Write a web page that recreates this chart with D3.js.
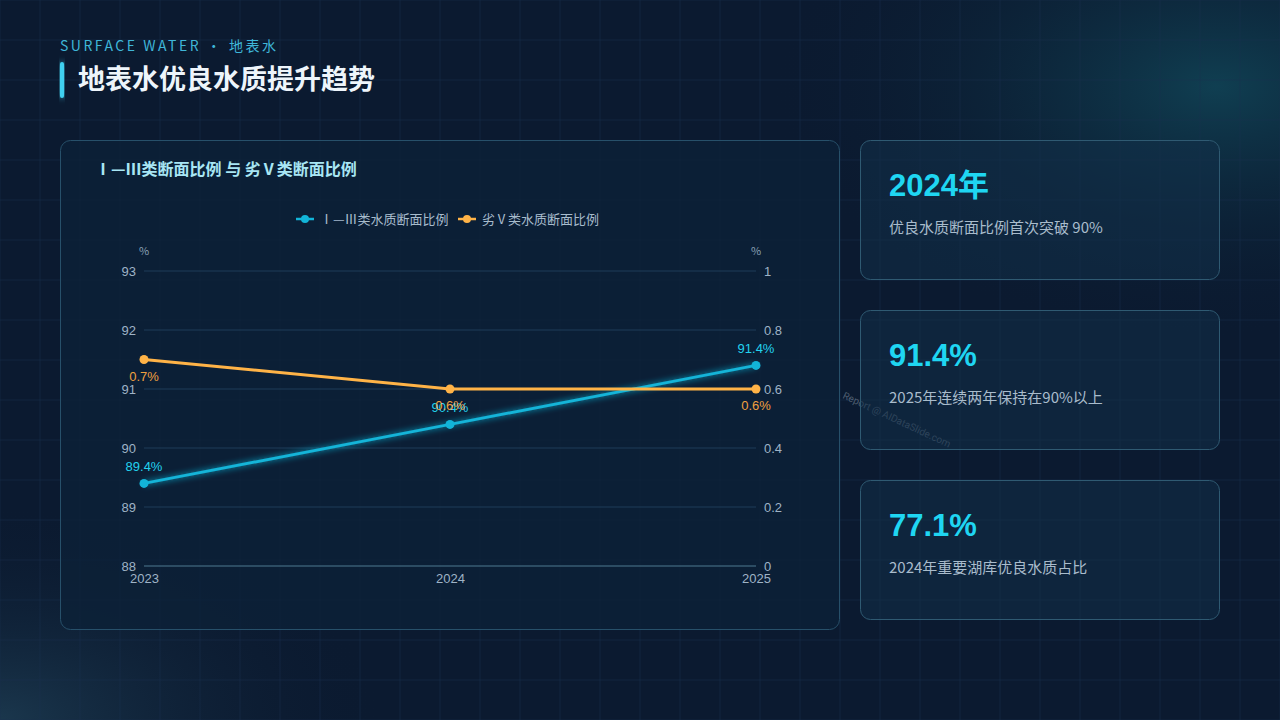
<!DOCTYPE html>
<html><head><meta charset="utf-8">
<script src="https://cdn.jsdelivr.net/npm/d3@7"></script>
<style>
body{margin:0;width:1280px;height:720px;overflow:hidden;background:#0b1a30;font-family:"Noto Sans CJK SC","Noto Sans",sans-serif;}
</style></head><body>
<svg id="c" width="1280" height="720"></svg>
<script>
const years = ["2023","2024","2025"];
const good = [89.4, 90.4, 91.4];
const bad = [0.7, 0.6, 0.6];
const leftTicks = [88,89,90,91,92,93];
const rightTicks = [0,0.2,0.4,0.6,0.8,1];
const cards = [
 {big:"2024年", small:"优良水质断面比例首次突破 90%"},
 {big:"91.4%", small:"2025年连续两年保持在90%以上"},
 {big:"77.1%", small:"2024年重要湖库优良水质占比"}
];
const svg = d3.select("#c");
const defs = svg.append("defs");
const bg = defs.append("radialGradient").attr("id","g1").attr("cx","0.95").attr("cy","0.12").attr("r","0.35");
bg.append("stop").attr("offset","0").attr("stop-color","#11485a").attr("stop-opacity",0.8);
bg.append("stop").attr("offset","1").attr("stop-color","#0b1a30").attr("stop-opacity",0);
const bg2 = defs.append("radialGradient").attr("id","g2").attr("cx","0").attr("cy","1").attr("r","0.3");
bg2.append("stop").attr("offset","0").attr("stop-color","#1c3a50").attr("stop-opacity",0.9);
bg2.append("stop").attr("offset","1").attr("stop-color","#0b1a30").attr("stop-opacity",0);
const glow = defs.append("filter").attr("id","glow").attr("x","-20%").attr("y","-50%").attr("width","140%").attr("height","200%");
glow.append("feGaussianBlur").attr("stdDeviation",3).attr("result","b");
const fm = glow.append("feMerge"); fm.append("feMergeNode").attr("in","b"); fm.append("feMergeNode").attr("in","SourceGraphic");
svg.append("rect").attr("width",1280).attr("height",720).attr("fill","#0b1a30");
svg.append("rect").attr("width",1280).attr("height",720).attr("fill","url(#g1)");
svg.append("rect").attr("width",1280).attr("height",720).attr("fill","url(#g2)");
const grid = svg.append("g").attr("stroke","#1a3350").attr("stroke-opacity",0.45);
d3.range(0,1281,40).forEach(x=>grid.append("line").attr("x1",x).attr("x2",x).attr("y1",0).attr("y2",720));
d3.range(0,721,40).forEach(y=>grid.append("line").attr("y1",y).attr("y2",y).attr("x1",0).attr("x2",1280));

svg.append("text").attr("x",60).attr("y",51).attr("fill","#3fb6d8").attr("font-size",14).attr("letter-spacing",2.5).text("SURFACE WATER · 地表水");
svg.append("rect").attr("x",60).attr("y",62).attr("width",4).attr("height",36).attr("rx",2).attr("fill","#3fd0f0").attr("filter","url(#glow)");
svg.append("text").attr("x",78).attr("y",89).attr("fill","#eef5fb").attr("font-size",27).attr("font-weight",700).text("地表水优良水质提升趋势");

svg.append("rect").attr("x",60.5).attr("y",140.5).attr("width",779).attr("height",489).attr("rx",10).attr("fill","#0c2238").attr("fill-opacity",0.75).attr("stroke","#27506a");
svg.append("text").attr("x",95).attr("y",175).attr("fill","#a8e6f4").attr("font-size",16).attr("font-weight",700).text("Ⅰ—Ⅲ类断面比例 与 劣Ⅴ类断面比例");

const x = d3.scalePoint().domain(years).range([144,756]);
const yl = d3.scaleLinear().domain([88,93]).range([566,271]);
const yr = d3.scaleLinear().domain([0,1]).range([566,271]);
const g = svg.append("g");
leftTicks.forEach(t=>g.append("line").attr("x1",144).attr("x2",756).attr("y1",yl(t)).attr("y2",yl(t)).attr("stroke",t==88?"#4f7a90":"#1f3d58"));
const al = g.append("g").attr("transform","translate(144,0)").call(d3.axisLeft(yl).tickValues(leftTicks).tickSize(0).tickPadding(8).tickFormat(d3.format("~g")));
const ar = g.append("g").attr("transform","translate(756,0)").call(d3.axisRight(yr).tickValues(rightTicks).tickSize(0).tickPadding(8).tickFormat(d3.format("~g")));
const ab = g.append("g").attr("transform","translate(0,566)").call(d3.axisBottom(x).tickSize(0).tickPadding(8));
[al,ar,ab].forEach(a=>{a.select(".domain").remove();a.selectAll("text").attr("fill","#9fb3c6").attr("font-size",13).attr("font-family","'Liberation Sans',Roboto,sans-serif");});
g.append("text").attr("x",144).attr("y",255).attr("text-anchor","middle").attr("fill","#8aa0b5").attr("font-size",11).text("%");
g.append("text").attr("x",756).attr("y",255).attr("text-anchor","middle").attr("fill","#8aa0b5").attr("font-size",11).text("%");

const blue="#12b4d8", orange="#ffb347";
const lb = d3.line().x((d,i)=>x(years[i])).y(d=>yl(d));
const lo = d3.line().x((d,i)=>x(years[i])).y(d=>yr(d));
g.append("path").attr("d",lb(good)).attr("fill","none").attr("stroke",blue).attr("stroke-width",3).attr("filter","url(#glow)");
g.append("path").attr("d",lo(bad)).attr("fill","none").attr("stroke",orange).attr("stroke-width",3);
good.forEach((v,i)=>{g.append("circle").attr("cx",x(years[i])).attr("cy",yl(v)).attr("r",4.5).attr("fill",blue);
 g.append("text").attr("x",x(years[i])).attr("y",yl(v)-12).attr("text-anchor","middle").attr("fill","#22d3f0").attr("font-size",13).attr("font-family","'Liberation Sans',Roboto,sans-serif").text(v+"%");});
bad.forEach((v,i)=>{g.append("circle").attr("cx",x(years[i])).attr("cy",yr(v)).attr("r",4.5).attr("fill",orange);
 g.append("text").attr("x",x(years[i])).attr("y",yr(v)+21).attr("text-anchor","middle").attr("fill","#f0a040").attr("font-size",13).attr("font-family","'Liberation Sans',Roboto,sans-serif").text(v+"%");});

const lg = svg.append("g").attr("font-size",13);
[[296,blue,"Ⅰ—Ⅲ类水质断面比例"],[458,orange,"劣Ⅴ类水质断面比例"]].forEach(([lx,c,t])=>{
 lg.append("line").attr("x1",lx).attr("x2",lx+18).attr("y1",219).attr("y2",219).attr("stroke",c).attr("stroke-width",2.5);
 lg.append("circle").attr("cx",lx+9).attr("cy",219).attr("r",4).attr("fill",c);
 lg.append("text").attr("x",lx+24).attr("y",224).attr("fill","#a8bccd").text(t);
});

svg.append("text").attr("transform","translate(842,398) rotate(25)").attr("fill","#7d8c9c").attr("fill-opacity",0.6).attr("font-size",10).attr("font-family","Roboto,sans-serif").text("Report @ AIDataSlide.com");

cards.forEach((c,i)=>{
 const y0 = 140+i*170;
 svg.append("rect").attr("x",860.5).attr("y",y0+0.5).attr("width",359).attr("height",139).attr("rx",10).attr("fill","#123048").attr("fill-opacity",0.55).attr("stroke","#2f5a72");
 svg.append("text").attr("x",889).attr("y",y0+56).attr("fill","#1fd6f2").attr("font-size",31).attr("font-weight",700).attr("font-family","'Liberation Sans','Noto Sans CJK SC',sans-serif").text(c.big);
 svg.append("text").attr("x",889).attr("y",y0+93).attr("fill","#a9bccc").attr("font-size",15).text(c.small);
});
</script></body></html>
